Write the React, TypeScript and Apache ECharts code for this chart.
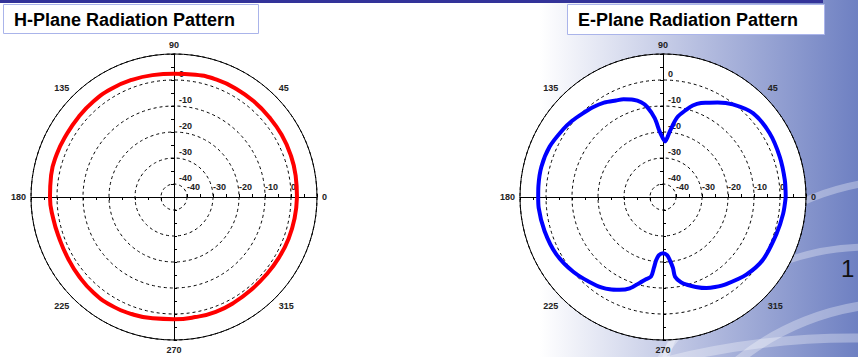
import React, { useEffect, useRef } from 'react';
import * as echarts from 'echarts';

// ---------- data ----------
const titles = ['H-Plane Radiation Pattern', 'E-Plane Radiation Pattern'];
const pageNumber = '1';
const angleTickLabels = ['0', '45', '90', '135', '180', '225', '270', '315'];
const radiusTickLabels = ['-40', '-30', '-20', '-10', '0'];

// H-plane (angle in degrees, gain in dB)
const hAngles = [0, 10, 20, 30, 40, 50, 60, 70, 80, 90, 100, 110, 120, 130, 140, 150, 160, 170, 180,
  190, 200, 210, 220, 230, 240, 250, 260, 270, 280, 290, 300, 310, 320, 330, 340, 350, 360];
const hGain = [2.3, 2.5, 2.7, 2.8, 2.8, 2.9, 3.0, 3.0, 2.7, 2.4, 2.6, 2.9, 3.1, 3.1, 2.9, 2.8, 3.0, 3.0, 2.7,
  2.2, 1.9, 2.1, 2.6, 3.1, 3.2, 2.9, 2.4, 2.0, 1.9, 2.0, 1.7, 1.4, 1.4, 1.6, 1.9, 2.1, 2.3];

// E-plane (angle in degrees, gain in dB)
const eAngles = [0, 8, 19, 31, 43, 53, 60, 65, 68, 72, 75, 80, 84, 88, 90, 93, 96, 100, 103, 107, 112, 116,
  122, 128, 134, 140, 146, 156, 166, 175, 180, 185, 196, 208, 220, 233, 240, 245, 250, 255, 258, 261.4, 262.7,
  263.8, 266, 270, 274, 276.2, 278, 278.6, 282, 285.3, 290, 295.5, 300, 306, 317, 328, 342, 352, 360];
const eGain = [2.2, 2.3, 2.5, 2.8, 2.3, -0.4, -3.0, -5.0, -6.0, -8.0, -10.2, -14.0, -19.5, -23.6, -22.5, -19.7,
  -14.5, -9.8, -7.6, -5.9, -4.5, -3.7, -2.2, -1.2, -0.4, 0.6, 1.4, 2.7, 3.2, 3.1, 3.0, 3.0, 2.4, 1.6, -0.1,
  -2.4, -4.0, -5.6, -7.6, -10.9, -12.6, -14.0, -17.6, -20.5, -22.6, -23.4, -22.6, -20.5, -17.5, -14.0, -11.4,
  -10.0, -8.2, -6.2, -5.0, -3.6, -1.2, 0.4, 0.9, 1.65, 2.2];

const R_MIN = -45;
const R_MAX = 10;
const FONT = '"Liberation Sans", Arial, sans-serif';
const LABEL_COLOR = '#222';

function polarBlock(center: number[], idx0: number, fillDisc: boolean) {
  const starts = [0, 90, 180, 270];
  const polar = starts.map(() => ({ center, radius: 143 }));
  const angleAxis = starts.map((s, k) => {
    if (k === 0) {
      return {
        polarIndex: idx0,
        type: 'value', min: 0, max: 360, interval: 45, startAngle: 0, clockwise: false,
        axisLine: { show: true, lineStyle: { color: '#000', width: 1 } },
        axisTick: { show: true, inside: true, length: 4, lineStyle: { color: '#000', width: 1 } },
        minorTick: { show: true, splitNumber: 9, length: 4, lineStyle: { color: '#000', width: 1 } },
        axisLabel: {
          show: true, margin: 5, color: LABEL_COLOR, fontSize: 9, fontWeight: 'bold', fontFamily: FONT,
          formatter: (v: number) => angleTickLabels[Math.round(v / 45)] ?? '',
        },
        splitLine: { show: true, lineStyle: { color: '#000', type: [3, 3], width: 1 } },
        splitArea: { show: fillDisc, areaStyle: { color: ['#ffffff'] } },
      };
    }
    return {
      polarIndex: idx0 + k, type: 'value', min: 0, max: 360, startAngle: s, clockwise: false, show: false,
    };
  });
  const radiusAxis = starts.map((s, k) => ({
    polarIndex: idx0 + k,
    type: 'value', min: R_MIN, max: R_MAX, interval: 5,
    axisLine: { show: true, lineStyle: { color: '#000', width: 1 } },
    axisTick: { show: true, length: 3, lineStyle: { color: '#000', width: 1 } },
    axisLabel: {
      show: k === 0 || k === 1,
      align: 'left',
      verticalAlign: 'bottom',
      margin: k === 0 ? 6 : -5,
      padding: k === 1 ? [0, 0, 2, 0] : 0,
      color: LABEL_COLOR, fontSize: 9, fontWeight: 'bold', fontFamily: FONT,
      formatter: (v: number) => (radiusTickLabels.includes(String(v)) ? String(v) : ''),
    },
    splitLine: {
      show: k === 0,
      lineStyle: { color: ['transparent', '#000'], type: [3, 3], width: 1 },
    },
    z: 1,
  }));
  return { polar, angleAxis, radiusAxis };
}

export default function App() {
  const ref = useRef<HTMLDivElement>(null);
  useEffect(() => {
    if (!ref.current) return;
    const chart = echarts.init(ref.current, null, { renderer: 'svg' });
    const L = polarBlock([174, 197], 0, true);
    const Rb = polarBlock([663, 197], 4, true);

    const option: any = {
      animation: false,
      polar: [...L.polar, ...Rb.polar],
      angleAxis: [...L.angleAxis, ...Rb.angleAxis],
      radiusAxis: [...L.radiusAxis, ...Rb.radiusAxis],
      series: [
        {
          type: 'line', coordinateSystem: 'polar', polarIndex: 0,
          data: hAngles.map((a, i) => [hGain[i], a]),
          showSymbol: false, smooth: 0.5,
          lineStyle: { color: '#ff0000', width: 4 }, itemStyle: { color: '#ff0000' }, z: 5,
        },
        {
          type: 'line', coordinateSystem: 'polar', polarIndex: 4,
          data: eAngles.map((a, i) => [eGain[i], a]),
          showSymbol: false, smooth: 0.3,
          lineStyle: { color: '#0000ff', width: 4 }, itemStyle: { color: '#0000ff' }, z: 5,
        },
      ],
      graphic: [
        {
          type: 'rect', z: -20, silent: true,
          shape: { x: 540, y: 0, width: 318, height: 357 },
          style: {
            fill: new echarts.graphic.LinearGradient(0, 0, 1, 0, [
              { offset: 0, color: '#ffffff' },
              { offset: 0.5, color: '#b6bee0' },
              { offset: 1, color: '#6e80c2' },
            ]),
          },
        },
        { type: 'arc', z: -19, silent: true, shape: { cx: 905, cy: 430, r: 250, startAngle: Math.PI, endAngle: 2 * Math.PI }, style: { stroke: 'rgba(255,255,255,0.32)', lineWidth: 7, fill: 'none' } },
        { type: 'arc', z: -19, silent: true, shape: { cx: 868, cy: 495, r: 248, startAngle: Math.PI, endAngle: 2 * Math.PI }, style: { stroke: 'rgba(255,255,255,0.32)', lineWidth: 7, fill: 'none' } },
        { type: 'arc', z: -19, silent: true, shape: { cx: 900, cy: 560, r: 257, startAngle: Math.PI, endAngle: 2 * Math.PI }, style: { stroke: 'rgba(255,255,255,0.32)', lineWidth: 9, fill: 'none' } },
        { type: 'arc', z: -19, silent: true, shape: { cx: 853, cy: 1100, r: 762, startAngle: Math.PI, endAngle: 2 * Math.PI }, style: { stroke: 'rgba(255,255,255,0.32)', lineWidth: 9, fill: 'none' } },
        { type: 'rect', z: 10, silent: true, shape: { x: 0, y: 0, width: 823, height: 3 }, style: { fill: '#333399' } },
        { type: 'rect', z: 10, silent: true, shape: { x: 3.5, y: 4.5, width: 255, height: 29 }, style: { fill: '#ffffff', stroke: '#aab4ea', lineWidth: 1 } },
        { type: 'rect', z: 10, silent: true, shape: { x: 567.5, y: 4.5, width: 257, height: 30 }, style: { fill: '#ffffff', stroke: '#aab4ea', lineWidth: 1 } },
        { type: 'text', z: 11, silent: true, x: 14, y: 20, style: { text: titles[0], fill: '#000', font: `bold 18px ${FONT}`, verticalAlign: 'middle' } },
        { type: 'text', z: 11, silent: true, x: 578, y: 20, style: { text: titles[1], fill: '#000', font: `bold 18px ${FONT}`, verticalAlign: 'middle' } },
        { type: 'text', z: 11, silent: true, x: 841, y: 268, style: { text: pageNumber, fill: '#111', font: `24px ${FONT}`, verticalAlign: 'middle' } },
      ],
    };
    chart.setOption(option);
    return () => chart.dispose();
  }, []);
  return <div ref={ref} style={{ position: 'fixed', left: 0, top: 0, width: 858, height: 357, background: '#fff' }} />;
}
